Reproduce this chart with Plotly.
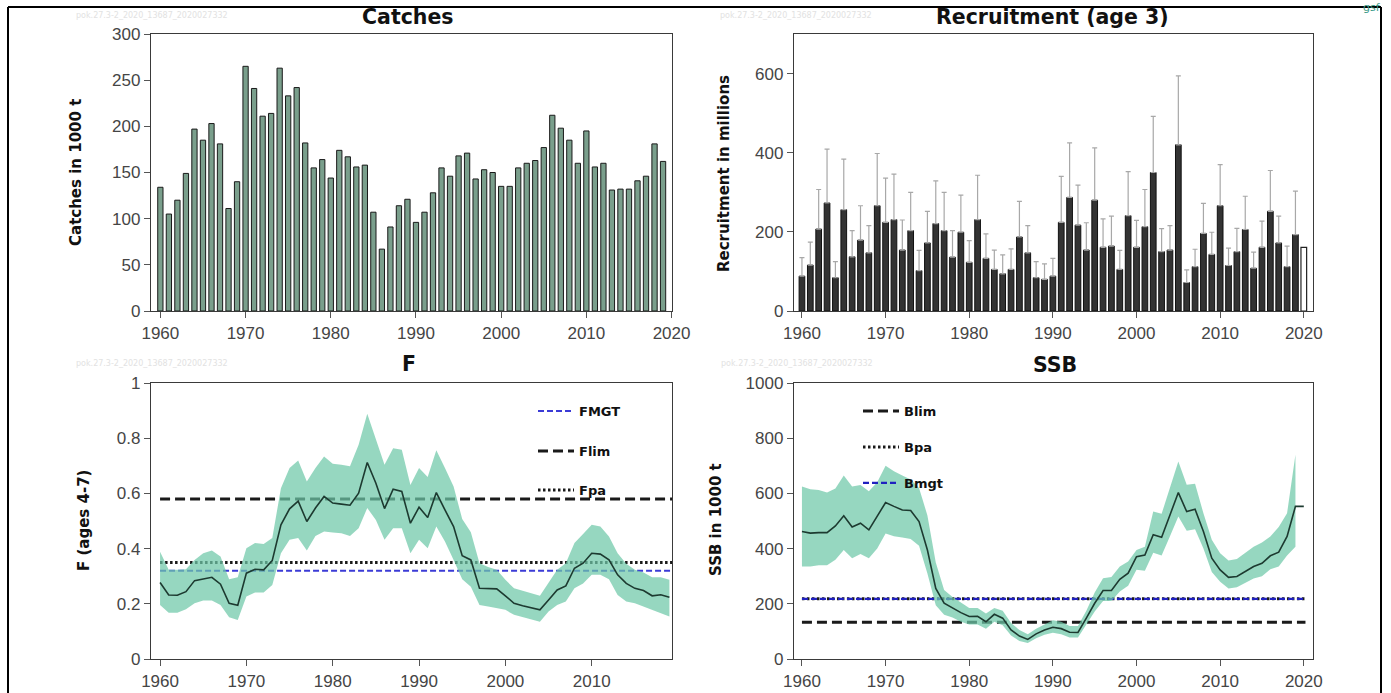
import plotly.graph_objects as go

# ---------------- data ----------------
catch_years = list(range(1960, 2020))
catches = [134,105,120,149,197,185,203,181,111,140,
           265,241,211,214,263,233,242,182,155,164,
           144,174,167,156,158,107,67,91,114,121,
           96,107,128,155,146,168,171,143,153,150,
           135,135,155,160,163,177,212,198,185,160,
           195,156,160,131,132,132,141,146,181,162]

rec_years = list(range(1960, 2020))
recruitment = [88,116,207,273,84,256,137,179,147,266,
               224,231,154,203,102,172,221,203,136,199,
               123,231,133,105,94,105,187,147,84,80,
               88,224,287,217,154,280,161,164,105,241,
               161,213,350,150,154,420,72,112,196,143,
               266,115,150,206,108,161,252,172,112,193]
rec_upper = [135,174,307,409,125,384,203,266,216,398,
             336,346,230,300,153,252,329,300,203,293,
             178,343,195,154,142,157,277,216,125,119,
             133,340,425,318,223,412,233,240,153,352,
             229,307,492,208,216,594,104,156,272,199,
             370,159,209,290,149,227,355,240,164,303]
rec_assumed_year = [2020]
rec_assumed = [161]

f_years = list(range(1960, 2020))
f_mean = [0.277,0.232,0.231,0.244,0.284,0.289,0.296,0.271,0.202,0.195,
          0.311,0.325,0.323,0.357,0.486,0.544,0.572,0.498,0.547,0.589,
          0.565,0.561,0.557,0.601,0.712,0.637,0.545,0.615,0.607,0.492,
          0.550,0.513,0.603,0.540,0.480,0.374,0.359,0.256,0.256,0.254,
          0.229,0.202,0.193,0.186,0.178,0.214,0.250,0.265,0.329,0.347,
          0.383,0.380,0.359,0.305,0.274,0.256,0.248,0.229,0.233,0.224]
f_high = [0.389,0.323,0.323,0.325,0.359,0.383,0.393,0.371,0.289,0.296,
          0.401,0.420,0.417,0.438,0.619,0.692,0.719,0.643,0.692,0.734,
          0.707,0.704,0.698,0.776,0.889,0.794,0.704,0.764,0.758,0.630,
          0.692,0.659,0.756,0.692,0.625,0.507,0.459,0.347,0.333,0.323,
          0.287,0.256,0.248,0.238,0.229,0.274,0.323,0.347,0.420,0.453,
          0.486,0.480,0.444,0.383,0.345,0.323,0.313,0.296,0.296,0.287]
f_low = [0.196,0.168,0.168,0.180,0.202,0.212,0.212,0.196,0.151,0.141,
         0.226,0.241,0.241,0.268,0.383,0.432,0.438,0.393,0.446,0.462,
         0.458,0.456,0.446,0.474,0.547,0.504,0.432,0.474,0.474,0.383,
         0.432,0.401,0.480,0.426,0.359,0.289,0.262,0.196,0.190,0.184,
         0.178,0.160,0.151,0.144,0.135,0.172,0.196,0.208,0.256,0.274,
         0.305,0.305,0.289,0.232,0.208,0.202,0.190,0.178,0.166,0.154]
FMGT, FLIM, FPA = 0.32, 0.58, 0.35
f_ref_years = [1960, 2019.3]

ssb_years = list(range(1960, 2021))
ssb = [462,456,458,458,482,519,478,492,468,516,
       567,553,540,538,498,395,256,202,184,168,
       154,155,135,162,148,105,83,71,91,105,
       115,110,97,96,148,202,248,248,289,311,
       371,377,450,441,522,603,534,543,462,365,
       323,296,299,316,335,347,374,387,444,553,
       553]
ssb_band_years = list(range(1960, 2020))
ssb_high = [625,615,612,603,618,665,625,630,608,640,
            700,680,665,650,620,520,350,250,225,205,
            185,185,165,185,175,130,105,90,110,125,
            140,135,120,120,175,241,293,297,335,353,
            395,407,534,526,625,716,631,635,528,432,
            383,357,362,383,407,422,444,478,528,740]
ssb_low = [335,335,340,340,360,395,365,380,365,400,
           455,445,440,435,410,310,195,160,150,135,
           125,125,110,135,122,85,65,58,75,88,
           95,90,78,78,125,172,210,210,245,265,
           323,320,385,375,445,516,465,470,400,315,
           280,255,260,275,292,300,325,335,375,407]
BLIM, BPA, BMGT = 133, 218, 218
ssb_ref_years = [1960, 2020.2]

# ---------------- figure ----------------
W, H = 1391, 693
def px_x(p): return p / W
def px_y(p): return 1 - p / H

fig = go.Figure()

BAND = "rgba(110,200,168,0.72)"
LINE = "#1d3a30"

# Catches
fig.add_trace(go.Bar(x=catch_years, y=catches, width=0.62,
                     marker=dict(color="#7a9f8c", line=dict(color="#1a1a1a", width=1)),
                     xaxis="x", yaxis="y", showlegend=False))

# Recruitment
err_plus = [u - v for u, v in zip(rec_upper, recruitment)]
fig.add_trace(go.Bar(x=rec_years, y=recruitment, width=0.68,
                     marker=dict(color="#333333", line=dict(color="#111111", width=1)),
                     error_y=dict(type="data", symmetric=False, array=err_plus,
                                  arrayminus=[0]*len(err_plus), color="#a8a8a8",
                                  thickness=1.2, width=2.5),
                     xaxis="x2", yaxis="y2", showlegend=False))
fig.add_trace(go.Bar(x=rec_assumed_year, y=rec_assumed, width=0.68,
                     marker=dict(color="white", line=dict(color="#222222", width=1.2)),
                     xaxis="x2", yaxis="y2", showlegend=False))

# F reference lines
fig.add_trace(go.Scatter(x=f_ref_years, y=[FMGT]*2, mode="lines", name="FMGT",
                         line=dict(color="#3b3bd6", width=2, dash="6px,3px"),
                         xaxis="x3", yaxis="y3", legend="legend"))
fig.add_trace(go.Scatter(x=f_ref_years, y=[FLIM]*2, mode="lines", name="Flim",
                         line=dict(color="#1a1a1a", width=3, dash="10px,5px"),
                         xaxis="x3", yaxis="y3", legend="legend2"))
fig.add_trace(go.Scatter(x=f_ref_years, y=[FPA]*2, mode="lines", name="Fpa",
                         line=dict(color="#1a1a1a", width=3, dash="2.5px,2.5px"),
                         xaxis="x3", yaxis="y3", legend="legend3"))
# F band + line
fig.add_trace(go.Scatter(x=f_years, y=f_low, mode="lines", line=dict(width=0, color=BAND),
                         xaxis="x3", yaxis="y3", showlegend=False, hoverinfo="skip"))
fig.add_trace(go.Scatter(x=f_years, y=f_high, mode="lines", line=dict(width=0, color=BAND),
                         fill="tonexty", fillcolor=BAND,
                         xaxis="x3", yaxis="y3", showlegend=False, hoverinfo="skip"))
fig.add_trace(go.Scatter(x=f_years, y=f_mean, mode="lines", line=dict(color=LINE, width=1.6),
                         xaxis="x3", yaxis="y3", showlegend=False))

# SSB reference lines
fig.add_trace(go.Scatter(x=ssb_ref_years, y=[BLIM]*2, mode="lines", name="Blim",
                         line=dict(color="#1a1a1a", width=3, dash="10px,5px"),
                         xaxis="x4", yaxis="y4", legend="legend4"))
fig.add_trace(go.Scatter(x=ssb_ref_years, y=[BPA]*2, mode="lines", name="Bpa",
                         line=dict(color="#1a1a1a", width=3, dash="2.5px,2.5px"),
                         xaxis="x4", yaxis="y4", legend="legend5"))
fig.add_trace(go.Scatter(x=ssb_ref_years, y=[BMGT]*2, mode="lines", name="Bmgt",
                         line=dict(color="#2020c0", width=2.2, dash="6px,3px"),
                         xaxis="x4", yaxis="y4", legend="legend6"))
fig.add_trace(go.Scatter(x=ssb_band_years, y=ssb_low, mode="lines", line=dict(width=0, color=BAND),
                         xaxis="x4", yaxis="y4", showlegend=False, hoverinfo="skip"))
fig.add_trace(go.Scatter(x=ssb_band_years, y=ssb_high, mode="lines", line=dict(width=0, color=BAND),
                         fill="tonexty", fillcolor=BAND,
                         xaxis="x4", yaxis="y4", showlegend=False, hoverinfo="skip"))
fig.add_trace(go.Scatter(x=ssb_years, y=ssb, mode="lines", line=dict(color=LINE, width=1.6),
                         xaxis="x4", yaxis="y4", showlegend=False))

# ---------------- axes ----------------
TICKFONT = dict(family="Liberation Sans, Arial, sans-serif", size=17, color="#454545")
def xax(domain, rng, tickvals, anchor):
    return dict(domain=domain, range=rng, tickvals=tickvals, anchor=anchor,
                showline=True, mirror=True, linecolor="#3a3a3a", linewidth=1.3,
                ticks="outside", ticklen=6, tickcolor="#555", tickwidth=1.2,
                showgrid=False, zeroline=False, tickfont=TICKFONT, automargin=False)
def yax(domain, rng, tickvals, ticktext, anchor):
    return dict(domain=domain, range=rng, tickvals=tickvals, ticktext=ticktext, anchor=anchor,
                showline=True, mirror=True, linecolor="#3a3a3a", linewidth=1.3,
                ticks="outside", ticklen=6, tickcolor="#555", tickwidth=1.2,
                showgrid=False, zeroline=False, tickfont=TICKFONT, automargin=False)

left_dom = [px_x(151), px_x(672)]
right_dom = [px_x(794), px_x(1313)]
top_dom = [px_y(311), px_y(34)]
bot_dom = [px_y(659), px_y(383)]
decades = [1960, 1970, 1980, 1990, 2000, 2010, 2020]

fig.update_layout(
    xaxis=xax(left_dom, [1958.9, 2020.05], decades, "y"),
    yaxis=yax(top_dom, [0, 300], [0, 50, 100, 150, 200, 250, 300], None, "x"),
    xaxis2=xax(right_dom, [1959.05, 2021.1], decades, "y2"),
    yaxis2=yax(top_dom, [0, 700], [0, 200, 400, 600], None, "x2"),
    xaxis3=xax(left_dom, [1958.95, 2019.3], decades[:-1], "y3"),
    yaxis3=yax(bot_dom, [0, 1], [0, 0.2, 0.4, 0.6, 0.8, 1],
               ["0", "0.2", "0.4", "0.6", "0.8", "1"], "x3"),
    xaxis4=xax(right_dom, [1959.05, 2021.1], decades, "y4"),
    yaxis4=yax(bot_dom, [0, 1000], [0, 200, 400, 600, 800, 1000], None, "x4"),
)

# ---------------- legends ----------------
LEGFONT = dict(family="DejaVu Sans", size=13, color="#111", weight="bold")
def leg(xp, yp):
    return dict(x=px_x(xp), y=px_y(yp), xanchor="left", yanchor="middle",
                bgcolor="rgba(0,0,0,0)", borderwidth=0, font=LEGFONT,
                itemwidth=36, tracegroupgap=0)
fig.update_layout(
    legend=leg(533, 411), legend2=leg(533, 451), legend3=leg(533, 490),
    legend4=leg(858, 411), legend5=leg(858, 447), legend6=leg(858, 483),
)

# ---------------- text ----------------
TITLEFONT = dict(family="DejaVu Sans", size=20.5, color="#111", weight="bold")
AXTFONT = dict(family="DejaVu Sans", size=15, color="#111", weight="bold")
ann = []
def a(text, xp, yp, font, angle=0):
    ann.append(dict(text=text, x=px_x(xp), y=px_y(yp), xref="paper", yref="paper",
                    showarrow=False, font=font, textangle=angle,
                    xanchor="center", yanchor="middle"))
a("Catches", 408, 17, TITLEFONT)
a("Recruitment (age 3)", 1052, 17, TITLEFONT)
a("F", 409, 364, TITLEFONT)
a("SSB", 1055, 365, TITLEFONT)
a("Catches in 1000 t", 76, 173, AXTFONT, -90)
a("Recruitment in millions", 724, 174, AXTFONT, -90)
a("F (ages 4-7)", 84, 521, AXTFONT, -90)
a("SSB in 1000 t", 716, 520, AXTFONT, -90)
WM = dict(family="DejaVu Sans", size=8, color="#e2e2e2")
for xp, yp in [(152, 15), (796, 15), (152, 363), (797, 363)]:
    a("pok.27.3-2_2020_13687_2020027332", xp, yp, WM)
a("gsf", 1372, 8, dict(family="DejaVu Sans", size=11, color="#3a9a88"))

# outer frame lines
shapes = [
    dict(type="line", xref="paper", yref="paper", x0=px_x(8), x1=px_x(8), y0=px_y(7), y1=0,
         line=dict(color="black", width=2)),
    dict(type="line", xref="paper", yref="paper", x0=px_x(8), x1=px_x(1381), y0=px_y(7), y1=px_y(7),
         line=dict(color="black", width=2)),
    dict(type="line", xref="paper", yref="paper", x0=px_x(1381), x1=px_x(1381), y0=px_y(7), y1=0,
         line=dict(color="black", width=2)),
]

fig.update_layout(width=W, height=H,
                  margin=dict(l=0, r=0, t=0, b=0, pad=0, autoexpand=False),
                  paper_bgcolor="white", plot_bgcolor="white",
                  annotations=ann, shapes=shapes, barmode="overlay",
                  showlegend=True)

fig.write_html("out.html", config={"displayModeBar": False},
               post_script="document.body.style.margin='0px';"
                           "document.body.style.overflow='hidden';")
